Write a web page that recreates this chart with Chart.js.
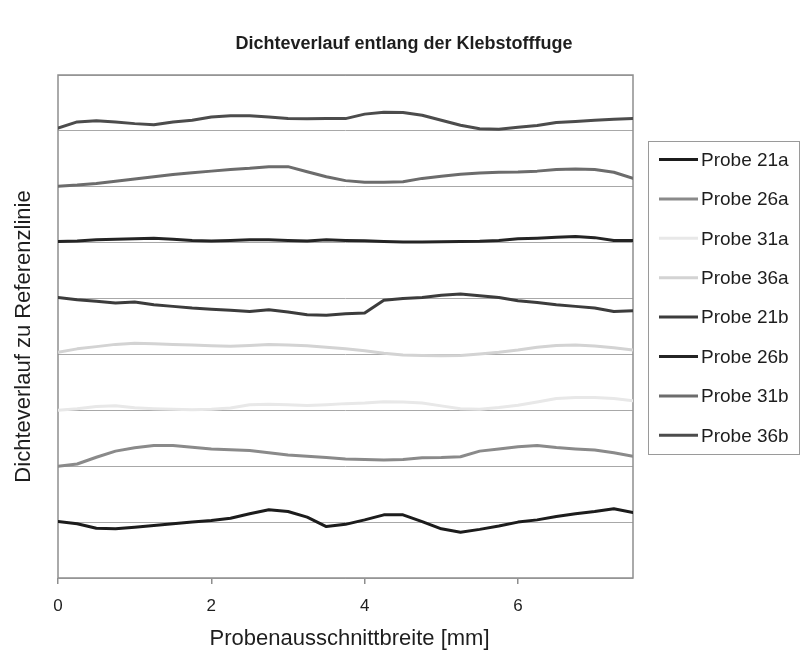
<!DOCTYPE html>
<html>
<head>
<meta charset="utf-8">
<script src="https://cdn.jsdelivr.net/npm/chart.js@4/dist/chart.umd.min.js"></script>
<style>
  html, body { margin: 0; padding: 0; background: #ffffff; }
  #wrap { width: 804px; height: 652px; }
</style>
</head>
<body>
<div id="wrap"><canvas id="c" width="804" height="652"></canvas></div>
<script>
// Measurement positions across the specimen width [mm]
const positions = [0, 0.25, 0.5, 0.75, 1, 1.25, 1.5, 1.75, 2, 2.25, 2.5, 2.75, 3, 3.25, 3.5, 3.75,
                   4, 4.25, 4.5, 4.75, 5, 5.25, 5.5, 5.75, 6, 6.25, 6.5, 6.75, 7, 7.25, 7.5];

const probeNames = ['Probe 21a', 'Probe 26a', 'Probe 31a', 'Probe 36a',
                    'Probe 21b', 'Probe 26b', 'Probe 31b', 'Probe 36b'];

// Each probe is plotted around its own reference line
const referenceLevels = [1, 2, 3, 4, 5, 6, 7, 8];

// Density deviation from the reference line (one band = 1)
const probe21a = [0.01, -0.03, -0.11, -0.12, -0.09, -0.06, -0.03, 0.00, 0.03, 0.07, 0.15, 0.22, 0.19, 0.09, -0.08, -0.04,
                  0.04, 0.13, 0.13, 0.01, -0.12, -0.18, -0.13, -0.07, 0.00, 0.04, 0.10, 0.15, 0.19, 0.24, 0.17];
const probe26a = [0.00, 0.04, 0.16, 0.27, 0.33, 0.37, 0.37, 0.34, 0.31, 0.295, 0.28, 0.24, 0.20, 0.18, 0.155, 0.13,
                  0.12, 0.11, 0.12, 0.15, 0.155, 0.17, 0.27, 0.31, 0.35, 0.37, 0.335, 0.31, 0.29, 0.24, 0.18];
const probe31a = [0.00, 0.03, 0.07, 0.08, 0.045, 0.03, 0.02, 0.01, 0.02, 0.04, 0.10, 0.11, 0.10, 0.085, 0.10, 0.12,
                  0.13, 0.155, 0.15, 0.13, 0.08, 0.03, 0.02, 0.05, 0.09, 0.15, 0.21, 0.23, 0.23, 0.21, 0.17];
const probe36a = [0.04, 0.10, 0.14, 0.18, 0.20, 0.19, 0.18, 0.17, 0.155, 0.145, 0.16, 0.18, 0.17, 0.155, 0.13, 0.10,
                  0.065, 0.02, -0.01, -0.02, -0.025, -0.02, 0.01, 0.04, 0.08, 0.13, 0.16, 0.17, 0.15, 0.12, 0.08];
const probe21b = [0.02, -0.02, -0.05, -0.08, -0.06, -0.11, -0.14, -0.17, -0.19, -0.21, -0.23, -0.20, -0.24, -0.29, -0.30, -0.27,
                  -0.26, -0.03, 0.00, 0.02, 0.06, 0.08, 0.05, 0.02, -0.04, -0.07, -0.11, -0.14, -0.17, -0.23, -0.22];
const probe26b = [0.02, 0.03, 0.05, 0.06, 0.07, 0.08, 0.06, 0.04, 0.03, 0.04, 0.05, 0.05, 0.04, 0.03, 0.05, 0.04,
                  0.035, 0.02, 0.01, 0.01, 0.015, 0.02, 0.025, 0.04, 0.07, 0.08, 0.095, 0.11, 0.09, 0.04, 0.04];
const probe31b = [0.01, 0.03, 0.06, 0.10, 0.14, 0.18, 0.22, 0.25, 0.28, 0.31, 0.33, 0.36, 0.36, 0.27, 0.18, 0.11,
                  0.08, 0.08, 0.09, 0.15, 0.19, 0.225, 0.245, 0.26, 0.265, 0.28, 0.31, 0.32, 0.31, 0.26, 0.15];
const probe36b = [0.05, 0.16, 0.18, 0.16, 0.13, 0.11, 0.16, 0.19, 0.25, 0.27, 0.27, 0.25, 0.22, 0.215, 0.22, 0.22,
                  0.30, 0.335, 0.33, 0.28, 0.19, 0.10, 0.04, 0.03, 0.065, 0.095, 0.15, 0.17, 0.19, 0.21, 0.22];

const deviations = [probe21a, probe26a, probe31a, probe36a, probe21b, probe26b, probe31b, probe36b];

const xTicks = [0, 2, 4, 6];

const chartTitle = 'Dichteverlauf entlang der Klebstofffuge';
const xAxisTitle = 'Probenausschnittbreite [mm]';
const yAxisTitle = 'Dichteverlauf zu Referenzlinie';

// Styles
const lineColors = ['#1c1c1c', '#8a8a8a', '#e8e8e8', '#d3d3d3', '#3c3c3c', '#242424', '#6c6c6c', '#4c4c4c'];
const FONT = '"Liberation Sans", Arial, Helvetica, sans-serif';
const TEXT = '#1e1e1e';

Chart.defaults.font.family = FONT;
Chart.defaults.color = TEXT;

const datasets = probeNames.map((name, i) => ({
  label: name,
  data: positions.map((x, k) => ({ x: x, y: referenceLevels[i] + deviations[i][k] })),
  borderColor: lineColors[i],
  backgroundColor: lineColors[i],
  borderWidth: 3,
  pointRadius: 0,
  tension: 0,
  borderJoinStyle: 'round',
  borderCapStyle: 'round',
  fill: false
}));

// Plot frame, titles and the boxed legend
const decorations = {
  id: 'decorations',
  beforeDatasetsDraw(chart) {
    const { ctx, chartArea: a } = chart;
    ctx.save();
    ctx.strokeStyle = '#8e8e8e';
    ctx.lineWidth = 1.5;
    ctx.strokeRect(a.left, a.top, a.right - a.left, a.bottom - a.top);
    ctx.restore();
  },
  afterDraw(chart) {
    const { ctx, chartArea: a, width } = chart;
    ctx.save();
    ctx.fillStyle = TEXT;
    ctx.textAlign = 'center';
    ctx.textBaseline = 'middle';

    ctx.font = 'bold 18px ' + FONT;
    ctx.fillText(chartTitle, width / 2 + 2, 44);

    ctx.font = '22px ' + FONT;
    ctx.fillText(xAxisTitle, (a.left + a.right) / 2 + 4, 639);

    ctx.save();
    ctx.translate(24, (a.top + a.bottom) / 2 + 10);
    ctx.rotate(-Math.PI / 2);
    ctx.fillText(yAxisTitle, 0, 0);
    ctx.restore();

    // legend
    const box = { x: 648.5, y: 141.5, w: 151, h: 313 };
    ctx.strokeStyle = '#9a9a9a';
    ctx.lineWidth = 1;
    ctx.strokeRect(box.x, box.y, box.w, box.h);
    ctx.font = '19px ' + FONT;
    ctx.textAlign = 'left';
    chart.data.datasets.forEach((ds, i) => {
      const cy = 159.5 + i * 39.4;
      ctx.strokeStyle = ds.borderColor;
      ctx.lineWidth = 3;
      ctx.beginPath();
      ctx.moveTo(659, cy);
      ctx.lineTo(698, cy);
      ctx.stroke();
      ctx.fillStyle = TEXT;
      ctx.fillText(ds.label, 701, cy + 1);
    });
    ctx.restore();
  }
};

new Chart(document.getElementById('c'), {
  type: 'line',
  data: { datasets },
  plugins: [decorations],
  options: {
    responsive: false,
    animation: false,
    devicePixelRatio: 1,
    layout: { padding: { left: 0, right: 171, top: 75, bottom: 0 } },
    plugins: {
      legend: { display: false },
      tooltip: { enabled: false },
      title: { display: false }
    },
    scales: {
      x: {
        type: 'linear',
        min: 0,
        max: 7.5,
        afterBuildTicks: (scale) => { scale.ticks = xTicks.map(v => ({ value: v })); },
        afterFit: (scale) => { scale.height = 74; },
        ticks: { color: TEXT, font: { size: 17 }, padding: 12, maxRotation: 0 },
        grid: { drawOnChartArea: false, drawTicks: true, tickLength: 6, color: '#8e8e8e', lineWidth: 1.5 },
        border: { display: false }
      },
      y: {
        min: 0,
        max: 9,
        afterFit: (scale) => { scale.width = 58; },
        ticks: { display: false, stepSize: 1 },
        grid: { drawTicks: false, color: '#a8a8a8', lineWidth: 1 },
        border: { display: false }
      }
    }
  }
});
</script>
</body>
</html>
